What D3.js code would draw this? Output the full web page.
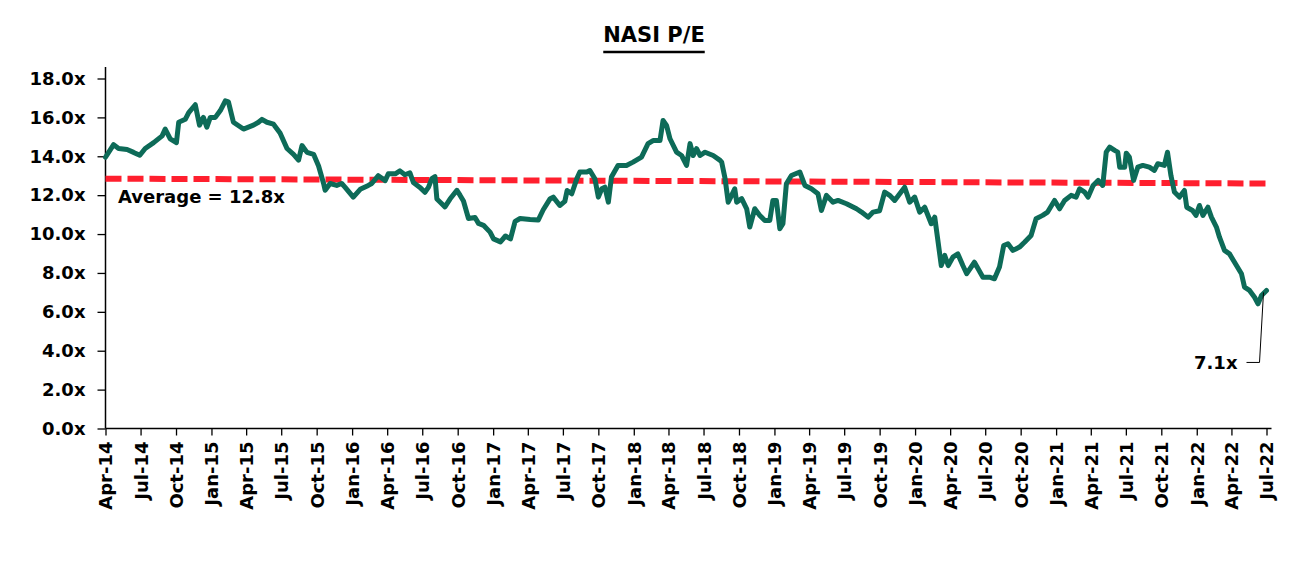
<!DOCTYPE html>
<html>
<head>
<meta charset="utf-8">
<script src="https://cdn.jsdelivr.net/npm/d3@7"></script>
<style>
  body { margin: 0; background: #fff; }
  text { font-family: "DejaVu Sans", sans-serif; font-weight: bold; fill: #000; }
</style>
</head>
<body>
<script>
var dates = [
  "2014-04-01","2014-04-22","2014-05-05","2014-05-27","2014-06-13","2014-06-29","2014-07-13","2014-08-04",
  "2014-08-26","2014-09-03","2014-09-16","2014-10-02","2014-10-08","2014-10-25","2014-11-03","2014-11-20",
  "2014-12-01","2014-12-11","2014-12-20","2014-12-29","2015-01-11","2015-01-24","2015-02-06","2015-02-14",
  "2015-02-27","2015-03-25","2015-04-20","2015-05-03","2015-05-12","2015-05-25","2015-06-11","2015-06-28",
  "2015-07-16","2015-08-02","2015-08-15","2015-08-24","2015-09-06","2015-09-23","2015-10-06","2015-10-19",
  "2015-10-23","2015-11-05","2015-11-22",
  "2015-12-05","2015-12-14","2016-01-04","2016-01-22","2016-02-12","2016-02-21","2016-03-09","2016-03-27",
  "2016-04-04","2016-04-22","2016-05-04","2016-05-17","2016-05-30","2016-06-08","2016-06-25","2016-07-08",
  "2016-07-17","2016-07-26","2016-08-03","2016-08-08","2016-08-16","2016-08-29","2016-09-11","2016-09-29",
  "2016-10-07","2016-10-16","2016-10-29","2016-11-15","2016-11-24","2016-12-07","2016-12-24","2017-01-02",
  "2017-01-20","2017-02-02","2017-02-15","2017-02-27","2017-03-12","2017-04-07","2017-04-28","2017-05-11",
  "2017-05-29","2017-06-06","2017-06-23","2017-07-06",
  "2017-07-12","2017-07-24","2017-08-06","2017-08-14","2017-09-01","2017-09-09","2017-09-22","2017-10-01",
  "2017-10-10","2017-10-18","2017-10-27","2017-11-04","2017-11-21","2017-12-13","2017-12-30","2018-01-21",
  "2018-02-07","2018-02-20","2018-03-10","2018-03-18","2018-03-27","2018-04-05","2018-04-22","2018-05-05",
  "2018-05-18","2018-05-27","2018-06-04","2018-06-13","2018-06-22","2018-07-05","2018-07-26","2018-08-13",
  "2018-08-17","2018-08-26","2018-09-03","2018-09-12","2018-09-20","2018-09-25","2018-10-08","2018-10-21",
  "2018-10-29","2018-11-11","2018-11-24","2018-12-07","2018-12-20","2018-12-28","2019-01-06","2019-01-15",
  "2019-01-23","2019-02-01","2019-02-14","2019-03-08","2019-03-21","2019-04-07","2019-04-24","2019-05-03",
  "2019-05-16","2019-06-02","2019-06-15","2019-07-07","2019-08-02","2019-08-15","2019-09-01","2019-09-14",
  "2019-10-01",
  "2019-10-14","2019-10-27","2019-11-09","2019-12-05","2019-12-18","2019-12-31","2020-01-13","2020-01-26",
  "2020-02-12","2020-02-21","2020-03-09","2020-03-18","2020-03-27","2020-04-08","2020-04-21","2020-05-04",
  "2020-05-14","2020-06-03","2020-06-25","2020-07-12","2020-07-25","2020-08-07","2020-08-18","2020-08-29",
  "2020-09-11","2020-09-28","2020-10-11","2020-10-28","2020-11-10","2020-11-27","2020-12-10","2020-12-28",
  "2021-01-10","2021-01-23","2021-02-09","2021-02-22","2021-03-03","2021-03-16","2021-03-25","2021-04-07",
  "2021-04-20","2021-05-02","2021-05-11","2021-05-20","2021-06-02","2021-06-10","2021-06-15","2021-06-28",
  "2021-07-02","2021-07-10","2021-07-21","2021-08-01","2021-08-14","2021-08-31","2021-09-13","2021-09-22",
  "2021-10-09","2021-10-17","2021-10-26","2021-11-04","2021-11-17","2021-11-30","2021-12-06","2021-12-21",
  "2021-12-30","2022-01-08","2022-01-17","2022-01-30","2022-02-08","2022-02-21","2022-03-01","2022-03-14",
  "2022-03-27","2022-04-09","2022-04-27","2022-05-05","2022-05-18","2022-05-31","2022-06-09","2022-06-18",
  "2022-07-01"
];

var peValues = [
  13.95,14.6,14.4,14.35,14.2,14.05,14.4,14.7,
  15.05,15.4,14.9,14.7,15.75,15.9,16.25,16.65,
  15.6,16.0,15.5,16.0,16.0,16.35,16.85,16.8,
  15.75,15.4,15.6,15.75,15.9,15.75,15.65,15.2,
  14.4,14.1,13.8,14.55,14.2,14.1,13.5,12.6,
  12.25,12.6,12.5,
  12.6,12.4,11.9,12.3,12.5,12.6,13.0,12.75,
  13.1,13.1,13.25,13.05,13.15,12.65,12.4,12.15,
  12.4,12.85,12.95,11.8,11.65,11.4,11.8,12.25,
  12.0,11.7,10.8,10.85,10.55,10.45,10.1,9.75,
  9.6,9.9,9.75,10.65,10.8,10.75,10.72,11.25,
  11.82,11.9,11.47,11.68,
  12.24,12.07,12.84,13.19,13.19,13.27,12.84,11.9,
  12.33,12.41,11.64,12.93,13.53,13.53,13.7,13.96,
  14.65,14.81,14.81,15.84,15.59,14.9,14.21,14.04,
  13.53,14.65,14.04,14.39,14.04,14.21,14.04,13.79,
  13.7,12.84,11.64,11.99,12.33,11.64,11.82,11.3,
  10.36,11.3,10.96,10.7,10.7,11.73,11.73,10.27,
  10.53,12.59,13.01,13.19,12.5,12.33,12.07,11.21,
  11.99,11.64,11.73,11.56,11.3,11.13,10.87,11.13,
  11.2,
  12.16,11.99,11.73,12.41,11.64,11.9,11.13,11.38,
  10.53,10.87,8.38,8.9,8.38,8.81,8.98,8.38,
  7.96,8.55,7.78,7.78,7.7,8.3,9.41,9.5,
  9.16,9.33,9.58,9.93,10.79,10.96,11.13,11.73,
  11.3,11.73,11.99,11.9,12.33,12.16,11.9,12.5,
  12.76,12.5,14.21,14.47,14.3,14.21,13.44,13.44,
  14.16,13.96,12.76,13.44,13.53,13.44,13.27,13.62,
  13.53,14.21,13.01,12.16,11.9,12.24,11.38,11.21,
  10.96,11.47,10.96,11.38,10.87,10.36,9.84,9.16,
  8.98,8.55,7.96,7.27,7.1,6.75,6.41,6.84,
  7.1
];

var yTicks = [0, 2, 4, 6, 8, 10, 12, 14, 16, 18];
var averageEnds = [12.85, 12.6];
var averageLabel = "Average = 12.8x";
var lastLabel = "7.1x";
var chartTitle = "NASI P/E";

var w = 1314;
var h = 578;
var parseDate = d3.timeParse("%Y-%m-%d");

var data = dates.map(function(d, i) {
  return { date: parseDate(d), value: peValues[i] };
});

var svg = d3.select("body")
  .append("svg")
  .attr("width", w)
  .attr("height", h);

var x = d3.scaleTime()
  .domain([parseDate("2014-04-01"), parseDate("2022-07-01")])
  .range([105.5, 1266.5]);

var y = d3.scaleLinear()
  .domain([0, 18])
  .range([428.5, 78.5]);

// title
var title = svg.append("text")
  .attr("x", 654)
  .attr("y", 42)
  .attr("text-anchor", "middle")
  .attr("font-size", "21px")
  .text(chartTitle);

var tb = title.node().getBBox();
svg.append("line")
  .attr("x1", tb.x)
  .attr("x2", tb.x + tb.width)
  .attr("y1", 52)
  .attr("y2", 52)
  .attr("stroke", "#000")
  .attr("stroke-width", 2.5);

// y axis
var yAxis = svg.append("g")
  .attr("transform", "translate(105.5,0)")
  .call(d3.axisLeft(y)
    .tickValues(yTicks)
    .tickSize(8)
    .tickPadding(12)
    .tickSizeOuter(0)
    .tickFormat(function(d) { return d.toFixed(1) + "x"; }));

yAxis.select(".domain").remove();
yAxis.selectAll(".tick line").attr("stroke", "#000").attr("stroke-width", 1.3);
yAxis.selectAll(".tick text")
  .attr("font-size", "18px")
  .attr("font-family", "DejaVu Sans")
  .attr("font-weight", "bold");

svg.append("line")
  .attr("x1", 105.5).attr("x2", 105.5)
  .attr("y1", 67).attr("y2", y(0))
  .attr("stroke", "#000")
  .attr("stroke-width", 1.5);

// x axis
var xAxis = svg.append("g")
  .attr("transform", "translate(0," + y(0) + ")")
  .call(d3.axisBottom(x)
    .ticks(d3.timeMonth.every(3))
    .tickSize(7)
    .tickSizeOuter(0)
    .tickFormat(d3.timeFormat("%b-%y")));

xAxis.select(".domain").remove();
xAxis.selectAll(".tick line").attr("stroke", "#000").attr("stroke-width", 1.3);
xAxis.selectAll(".tick text")
  .attr("font-size", "18px")
  .attr("font-family", "DejaVu Sans")
  .attr("font-weight", "bold")
  .attr("text-anchor", "end")
  .attr("transform", "rotate(-90)")
  .attr("x", -13)
  .attr("y", 0)
  .attr("dy", "0.36em");

svg.append("line")
  .attr("x1", 105.5).attr("x2", x.range()[1] + 5)
  .attr("y1", y(0)).attr("y2", y(0))
  .attr("stroke", "#000")
  .attr("stroke-width", 1.5);

// average line
svg.append("line")
  .attr("x1", x.range()[0])
  .attr("x2", x.range()[1] + 4)
  .attr("y1", y(averageEnds[0]))
  .attr("y2", y(averageEnds[1]))
  .attr("stroke", "#ff1f2e")
  .attr("stroke-width", 6)
  .attr("stroke-dasharray", "16,6");

// P/E line
var line = d3.line()
  .x(function(d) { return x(d.date); })
  .y(function(d) { return y(d.value); });

svg.append("path")
  .datum(data)
  .attr("d", line)
  .attr("fill", "none")
  .attr("stroke", "#0d6b58")
  .attr("stroke-width", 5)
  .attr("stroke-linejoin", "round")
  .attr("stroke-linecap", "round");

// labels
svg.append("text")
  .attr("x", 118)
  .attr("y", 203)
  .attr("font-size", "18px")
  .text(averageLabel);

var last = data[data.length - 1];
var lx = x(last.date) - 3;
var ly = y(last.value) + 2;

svg.append("polyline")
  .attr("points", [[lx, ly], [lx - 4, ly + 70], [lx - 17, ly + 70]].join(" "))
  .attr("fill", "none")
  .attr("stroke", "#000")
  .attr("stroke-width", 1);

svg.append("text")
  .attr("x", lx - 26)
  .attr("y", ly + 77)
  .attr("text-anchor", "end")
  .attr("font-size", "18px")
  .text(lastLabel);
</script>
</body>
</html>
